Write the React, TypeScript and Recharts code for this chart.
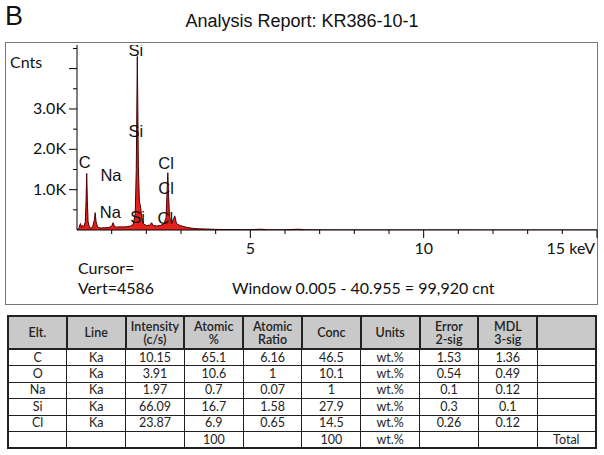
import React from 'react';
import { ComposedChart, Area, Scatter, XAxis, YAxis } from 'recharts';

// spectrum, energy (keV) and counts
const energies = [
  0, 0.05, 0.1, 0.13, 0.16, 0.2, 0.24, 0.26, 0.28, 0.3, 0.32, 0.36, 0.4, 0.45, 0.5, 0.525, 0.55,
  0.6, 0.7, 0.8, 0.9, 1.0, 1.04, 1.08, 1.15, 1.25, 1.35, 1.45, 1.55, 1.62, 1.68, 1.71, 1.74,
  1.77, 1.8, 1.83, 1.87, 1.92, 2.0, 2.1, 2.15, 2.2, 2.3, 2.4, 2.5, 2.57, 2.6, 2.62, 2.64,
  2.67, 2.75, 2.82, 2.87, 2.95, 3.05, 3.2, 3.35, 3.5, 3.7, 4.0, 4.5, 5.0, 5.3, 5.5, 6.0, 6.4,
  6.6, 7.5, 9, 12, 15,
];
const counts = [
  0, 40, 160, 60, 120, 80, 200, 700, 1400, 700, 200, 60, 50, 70, 250, 430, 200,
  60, 50, 55, 60, 90, 180, 90, 70, 80, 75, 85, 100, 140, 400, 1500, 4300,
  1600, 700, 600, 300, 150, 110, 120, 180, 110, 100, 110, 150, 300, 1000, 1420, 900,
  300, 200, 350, 160, 120, 90, 60, 40, 30, 25, 15, 10, 8, 20, 5, 5, 20,
  5, 3, 2, 1, 0,
];

// element markers
const markerNames = ['C', 'Na', 'Na', 'Si', 'Si', 'Si', 'Cl', 'Cl', 'Cl'];
const markerEnergies = [0.22, 0.98, 0.96, 1.7, 1.7, 1.75, 2.57, 2.57, 2.55];
const markerCounts = [1690, 1360, 440, 4460, 2460, 310, 1660, 1040, 290];

const xTicks = [1, 2, 3, 4, 5, 6, 7, 8, 9, 10, 11, 12, 13, 14, 15];
const xLabelTicks = [5, 10, 15];
const xLabels = ['5', '10', '15 keV'];
const yTicks = [500, 1000, 1500, 2000, 2500, 3000, 3500, 4000, 4500];
const yLabelTicks = [1000, 2000, 3000];
const yLabels = ['1.0K', '2.0K', '3.0K'];
const vertMax = 4586;

const tableHeader = ['Elt.', 'Line', 'Intensity\n(c/s)', 'Atomic\n%', 'Atomic\nRatio', 'Conc', 'Units', 'Error\n2-sig', 'MDL\n3-sig', ''];
const elements = ['C', 'O', 'Na', 'Si', 'Cl', ''];
const lines = ['Ka', 'Ka', 'Ka', 'Ka', 'Ka', ''];
const intensity = ['10.15', '3.91', '1.97', '66.09', '23.87', ''];
const atomicPct = ['65.1', '10.6', '0.7', '16.7', '6.9', '100'];
const atomicRatio = ['6.16', '1', '0.07', '1.58', '0.65', ''];
const conc = ['46.5', '10.1', '1', '27.9', '14.5', '100'];
const units = ['wt.%', 'wt.%', 'wt.%', 'wt.%', 'wt.%', 'wt.%'];
const error2 = ['1.53', '0.54', '0.1', '0.3', '0.26', ''];
const mdl3 = ['1.36', '0.49', '0.12', '0.1', '0.12', ''];
const lastCol = ['', '', '', '', '', 'Total'];

const spectrum = energies.map((e, i) => ({ e, c: counts[i] }));
const markers = markerNames.map((t, i) => ({ e: markerEnergies[i], c: markerCounts[i], t }));

const calibri = 'Lato, "Open Sans", sans-serif';
const helv = '"Liberation Sans", Arial, sans-serif';

const YTick = ({ x, y, payload }: any) => {
  const idx = yLabelTicks.indexOf(payload.value);
  const major = payload.value % 1000 === 0;
  return (
    <g>
      <line x1={x - (major ? 8 : 4)} x2={x} y1={y} y2={y} stroke="#000" />
      {idx >= 0 && (
        <text x={x - 11} y={y} dy={5} textAnchor="end" fontSize={16} fontFamily={calibri} fill="#111">
          {yLabels[idx]}
        </text>
      )}
    </g>
  );
};

const XTick = ({ x, y, payload }: any) => {
  const idx = xLabelTicks.indexOf(payload.value);
  const last = payload.value === 15;
  return (
    <g>
      <line x1={x} x2={x} y1={y} y2={y + (idx >= 0 ? 8 : 4)} stroke="#000" />
      {idx >= 0 && (
        <text x={last ? x - 2 : x} y={y + 24} textAnchor={last ? 'end' : 'middle'} fontSize={16} fontFamily={calibri} fill="#111">
          {xLabels[idx]}
        </text>
      )}
    </g>
  );
};

const MarkerLabel = ({ cx, cy, payload }: any) => (
  <text x={cx} y={cy} dy={6} textAnchor="middle" fontSize={16.5} fontFamily={helv} fill="#111">
    {payload.t}
  </text>
);

const cols = [elements, lines, intensity, atomicPct, atomicRatio, conc, units, error2, mdl3, lastCol];

const App = () => {
  return (
    <div style={{ position: 'absolute', left: 0, top: 0, width: 604, height: 455, background: '#fff', overflow: 'hidden' }}>
      <div style={{ position: 'absolute', left: 5, top: 1, fontSize: 27, fontFamily: helv, color: '#111' }}>B</div>
      <div style={{ position: 'absolute', left: 0, width: 604, top: 11, textAlign: 'center', fontSize: 18, fontFamily: helv, color: '#111' }}>
        Analysis Report: KR386-10-1
      </div>
      <div style={{ position: 'absolute', left: 5, top: 42, width: 591, height: 261, border: '1px solid #777' }} />
      <div style={{ position: 'absolute', left: 10, top: 52, fontSize: 16, fontFamily: calibri, color: '#111' }}>Cnts</div>
      <div style={{ position: 'absolute', left: 0, top: 0 }}>
        <ComposedChart width={604} height={270} data={spectrum} margin={{ top: 45, right: 7, bottom: 0, left: 0 }}>
          <XAxis
            type="number"
            dataKey="e"
            domain={[0, 15]}
            ticks={xTicks}
            interval={0}
            height={40}
            tickSize={0}
            tickMargin={0}
            tickLine={false}
            tick={<XTick />}
            axisLine={{ stroke: '#000' }}
            allowDataOverflow
          />
          <YAxis
            type="number"
            dataKey="c"
            domain={[0, vertMax]}
            ticks={yTicks}
            interval={0}
            width={77}
            tickSize={0}
            tickMargin={0}
            tickLine={false}
            tick={<YTick />}
            axisLine={{ stroke: '#000' }}
            allowDataOverflow
          />
          <Area type="linear" dataKey="c" stroke="#4a0000" strokeWidth={1} fill="#e8201c" fillOpacity={1} isAnimationActive={false} />
          <Scatter data={markers} dataKey="c" shape={<MarkerLabel />} isAnimationActive={false} />
        </ComposedChart>
      </div>
      <div style={{ position: 'absolute', left: 78, top: 258, fontSize: 16, fontFamily: calibri, color: '#111', lineHeight: '20px' }}>
        Cursor=<br />Vert={vertMax}
      </div>
      <div style={{ position: 'absolute', left: 232, top: 278, fontSize: 16, fontFamily: calibri, color: '#111', lineHeight: '20px' }}>
        Window 0.005 - 40.955 = 99,920 cnt
      </div>
      <table
        style={{
          position: 'absolute', left: 7, top: 315, width: 590, borderCollapse: 'collapse', tableLayout: 'fixed',
          border: '2px solid #222', fontFamily: calibri, fontSize: 12.5, color: '#222',
        }}
      >
        <tbody>
          <tr style={{ height: 33, background: '#c9c9c9' }}>
            {tableHeader.map((h, i) => (
              <td key={i} style={{ border: '2px solid #222', textAlign: 'center', fontWeight: 600, lineHeight: '13px', padding: 0, whiteSpace: 'pre-line' }}>
                {h}
              </td>
            ))}
          </tr>
          {elements.map((_, r) => (
            <tr key={r} style={{ height: 16.5 }}>
              {cols.map((col, c) => (
                <td key={c} style={{ border: '1.5px solid #222', textAlign: 'center', padding: 0, lineHeight: '14px' }}>
                  {col[r]}
                </td>
              ))}
            </tr>
          ))}
        </tbody>
      </table>
    </div>
  );
};

export default App;
